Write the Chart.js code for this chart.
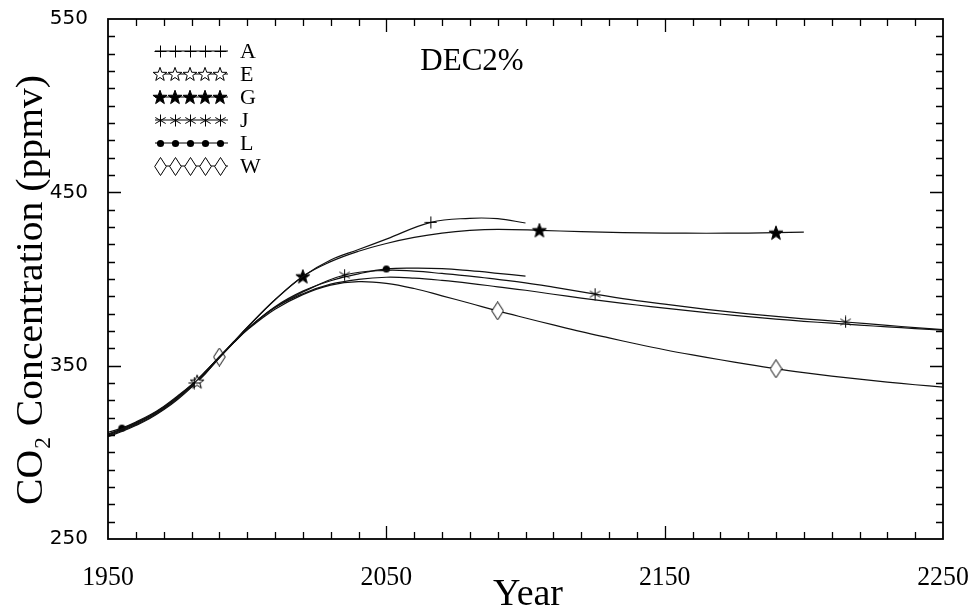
<!DOCTYPE html>
<html>
<head>
<meta charset="utf-8">
<script src="https://cdn.jsdelivr.net/npm/chart.js@4.4.1/dist/chart.umd.min.js"></script>
<style>
html,body{margin:0;padding:0;background:#fff;}
#wrap{width:976px;height:612px;position:relative;}
</style>
</head>
<body>
<div id="wrap"><canvas id="c" width="976" height="612"></canvas></div>
<script>
// ---- Data ----
const seriesNames = ['A', 'E', 'G', 'J', 'L', 'W'];

const aYears  = [1950,1955,1960,1965,1970,1975,1981,1985,1990,1995,2000,2010,2020,2030,2040,2050,2066,2080,2090,2100];
const aValues = [310.5,313.5,317,321,326,332,340,346.5,355,363.5,372,388,401.5,411,417,423,432.7,435,434.8,432.3];
const aMarkers = [1981, 2066];

const eYears  = [1950,1955,1960,1965,1970,1975,1982,1985,1990,1995,2000,2010,2020,2030,2040,2050,2060,2070,2080,2090,2100,2110,2120,2130,2140,2150,2160,2170,2180,2190,2200,2210,2220,2230,2240,2250];
const eValues = [309.5,312.5,316,320,325,331,340.8,345.5,354.5,363,371,383.5,391.5,397,399.8,401,400.5,399.2,397.5,395.5,393.5,391.2,389,386.9,385,383.2,381.5,379.8,378.3,376.9,375.6,374.5,373.4,372.4,371.4,370.5];
const eMarkers = [1982];

const gYears  = [1950,1955,1960,1965,1970,1975,1980,1985,1990,1995,2000,2010,2020,2030,2040,2050,2060,2070,2080,2090,2105,2120,2135,2150,2165,2180,2190,2200];
const gValues = [310.5,313.5,317,321,326,332,338.7,346.5,355,363.5,372,388,401.5,410,416,420.5,424,426.5,428,428.6,428.1,427.3,426.8,426.5,426.4,426.5,426.7,427];
const gMarkers = [2020, 2105, 2190];

const jYears  = [1950,1955,1960,1965,1970,1975,1980,1985,1990,1995,2000,2010,2020,2035,2050,2060,2070,2080,2090,2100,2110,2125,2140,2150,2160,2170,2180,2190,2200,2215,2230,2240,2250];
const jValues = [309,312,315.5,319.5,324.5,330.5,337.5,345.5,354.5,363,371,383.5,392.5,402.3,405,404.5,403.2,401.7,399.8,397.8,395.3,391.3,387.5,385.5,383.5,381.6,379.9,378.4,377,375.2,373.2,372,370.8];
const jMarkers = [2035, 2125, 2215];

const lYears  = [1950,1955,1960,1965,1970,1975,1980,1985,1990,1995,2000,2010,2020,2030,2040,2050,2060,2070,2080,2090,2100];
const lValues = [311.5,314,317.5,321.5,326.5,332.5,339,346.5,355,363,371,384,393,399,403,405.8,406.3,406,404.8,403.3,401.7];
const lMarkers = [1955, 2050];

const wYears  = [1950,1955,1960,1965,1970,1975,1980,1985,1990,1995,2000,2010,2020,2030,2040,2050,2060,2070,2080,2090,2100,2110,2120,2130,2140,2150,2160,2170,2180,2190,2200,2210,2220,2230,2240,2250];
const wValues = [310,313,316.5,320.5,325.5,331.5,338.5,346.5,355,363,370.5,382.5,391,396.5,398.5,397.5,394.5,390.3,386,381.6,377.5,373.5,369.6,366,362.5,359.2,356.2,353.4,350.7,348.2,346,344,342.2,340.5,339,337.6];
const wMarkers = [1990, 2090, 2190];

const xTickValues = [1950, 2050, 2150, 2250];
const yTickValues = [250, 350, 450, 550];
const chartTitle = 'DEC2%';
const xTitle = 'Year';
const yTitle = 'CO\u2082 Concentration (ppmv)';

// ---- Marker images ----
function mk(w, h, draw) {
  const c = document.createElement('canvas');
  c.width = w; c.height = h;
  const g = c.getContext('2d');
  g.strokeStyle = '#000'; g.fillStyle = '#000'; g.lineWidth = 1;
  draw(g, w, h);
  return c;
}
function starPath(g, cx, cy, ro, ri) {
  g.beginPath();
  for (let i = 0; i < 10; i++) {
    const r = i % 2 === 0 ? ro : ri;
    const a = -Math.PI / 2 + i * Math.PI / 5;
    const px = cx + r * Math.cos(a), py = cy + r * Math.sin(a);
    if (i === 0) g.moveTo(px, py); else g.lineTo(px, py);
  }
  g.closePath();
}
const imgCross = mk(13, 13, (g) => {
  g.beginPath(); g.moveTo(6.5, 0.5); g.lineTo(6.5, 12.5); g.moveTo(0.5, 6.5); g.lineTo(12.5, 6.5); g.stroke();
});
const imgStarOpen = mk(16, 16, (g) => {
  starPath(g, 8, 8.6, 7.2, 2.9); g.fillStyle = '#fff'; g.fill(); g.stroke();
});
const imgStarFilled = mk(16, 16, (g) => {
  starPath(g, 8, 8.6, 7.4, 3.0); g.fill(); g.stroke();
});
const imgAsterisk = mk(13, 13, (g) => {
  g.beginPath();
  for (const a of [90, 30, -30]) {
    const r = a * Math.PI / 180;
    g.moveTo(6.5 - 6 * Math.cos(r), 6.5 - 6 * Math.sin(r));
    g.lineTo(6.5 + 6 * Math.cos(r), 6.5 + 6 * Math.sin(r));
  }
  g.stroke();
});
const imgDot = mk(9, 9, (g) => {
  g.beginPath(); g.arc(4.5, 4.5, 3.6, 0, Math.PI * 2); g.fill();
});
const imgDiamond = mk(13, 19, (g) => {
  g.beginPath(); g.moveTo(6.5, 0.5); g.lineTo(12.3, 9.5); g.lineTo(6.5, 18.5); g.lineTo(0.7, 9.5); g.closePath();
  g.fillStyle = '#fff'; g.fill(); g.stroke();
});

const seriesYears = [aYears, eYears, gYears, jYears, lYears, wYears];
const seriesValues = [aValues, eValues, gValues, jValues, lValues, wValues];
const seriesMarkers = [aMarkers, eMarkers, gMarkers, jMarkers, lMarkers, wMarkers];
const seriesImgs = [imgCross, imgStarOpen, imgStarFilled, imgAsterisk, imgDot, imgDiamond];

const datasets = seriesNames.map((name, i) => {
  const yrs = seriesYears[i], vals = seriesValues[i], marks = seriesMarkers[i];
  return {
    label: name,
    data: yrs.map((y, k) => ({ x: y, y: vals[k] })),
    borderColor: '#111',
    borderWidth: 1.2,
    tension: 0.4,
    fill: false,
    pointStyle: seriesImgs[i],
    pointRadius: (ctx) => (ctx.raw && marks.includes(ctx.raw.x)) ? 6 : 0,
    pointHoverRadius: 0,
  };
});

// ---- Custom drawing: frame, inner ticks, tick labels, legend, titles ----
const decor = {
  id: 'decor',
  afterDatasetsDraw(chart) {
    const { ctx, chartArea: a, scales } = chart;
    const xs = scales.x, ys = scales.y;
    ctx.save();
    ctx.strokeStyle = '#000';
    ctx.lineWidth = 1.3;
    ctx.beginPath();
    for (let v = 1960; v < 2250; v += 10) {
      const px = Math.round(xs.getPixelForValue(v)) + 0.5;
      const len = ((v - 1950) % 100 === 0) ? 13 : 7;
      ctx.moveTo(px, a.bottom); ctx.lineTo(px, a.bottom - len);
      ctx.moveTo(px, a.top); ctx.lineTo(px, a.top + len);
    }
    for (let v = 260; v < 550; v += 10) {
      const py = Math.round(ys.getPixelForValue(v)) + 0.5;
      const len = ((v - 250) % 100 === 0) ? 13 : 7;
      ctx.moveTo(a.left, py); ctx.lineTo(a.left + len, py);
      ctx.moveTo(a.right, py); ctx.lineTo(a.right - len, py);
    }
    ctx.stroke();
    ctx.lineWidth = 1.8;
    ctx.strokeRect(a.left, a.top, a.right - a.left, a.bottom - a.top);

    ctx.fillStyle = '#000';
    // x tick labels (condensed serif)
    ctx.font = '28px "Liberation Serif"';
    ctx.textAlign = 'center';
    ctx.textBaseline = 'alphabetic';
    xTickValues.forEach(v => {
      ctx.save();
      ctx.translate(xs.getPixelForValue(v), 585);
      ctx.scale(0.92, 1);
      ctx.fillText(String(v), 0, 0);
      ctx.restore();
    });
    ctx.font = '20px "DejaVu Sans"';
    ctx.textAlign = 'right';
    ctx.textBaseline = 'middle';
    yTickValues.forEach(v => {
      ctx.fillText(String(v), 88, ys.getPixelForValue(v));
    });

    // legend
    ctx.lineWidth = 1.2;
    ctx.font = '22px "Liberation Serif"';
    ctx.textBaseline = 'middle';
    ctx.textAlign = 'left';
    seriesNames.forEach((name, i) => {
      const y = 51 + 23 * i;
      ctx.beginPath(); ctx.moveTo(155, y); ctx.lineTo(228, y); ctx.stroke();
      const img = seriesImgs[i];
      for (let k = 0; k < 5; k++) {
        const x = 160 + 15 * k;
        ctx.drawImage(img, Math.round(x - img.width / 2), Math.round(y - img.height / 2));
      }
      ctx.fillText(name, 240, y + 1);
    });

    // chart title
    ctx.font = '31px "Liberation Serif"';
    ctx.textAlign = 'center';
    ctx.textBaseline = 'middle';
    ctx.fillText(chartTitle, 472, 62);

    // x title
    ctx.font = '38px "Liberation Serif"';
    ctx.textBaseline = 'alphabetic';
    ctx.fillText(xTitle, 528, 605);

    // y title (rotated)
    ctx.save();
    ctx.translate(42, 290);
    ctx.rotate(-Math.PI / 2);
    ctx.font = '38px "Liberation Serif"';
    const w = ctx.measureText(yTitle).width;
    const s = 430 / w;
    ctx.scale(s, 1);
    ctx.textAlign = 'center';
    ctx.fillText(yTitle, 0, 0);
    ctx.restore();
    ctx.restore();
  }
};

new Chart(document.getElementById('c'), {
  type: 'line',
  data: { datasets },
  options: {
    responsive: false,
    animation: false,
    events: [],
    layout: { padding: { left: 0, right: 33, top: 19, bottom: 0 } },
    plugins: { legend: { display: false }, tooltip: { enabled: false }, title: { display: false } },
    scales: {
      x: {
        type: 'linear', min: 1950, max: 2250,
        grid: { display: false, drawTicks: false },
        border: { display: false },
        ticks: { display: false },
        afterFit: (sc) => { sc.height = 73; }
      },
      y: {
        type: 'linear', min: 250, max: 550,
        grid: { display: false, drawTicks: false },
        border: { display: false },
        ticks: { display: false },
        afterFit: (sc) => { sc.width = 108; }
      }
    }
  },
  plugins: [decor]
});
</script>
</body>
</html>
